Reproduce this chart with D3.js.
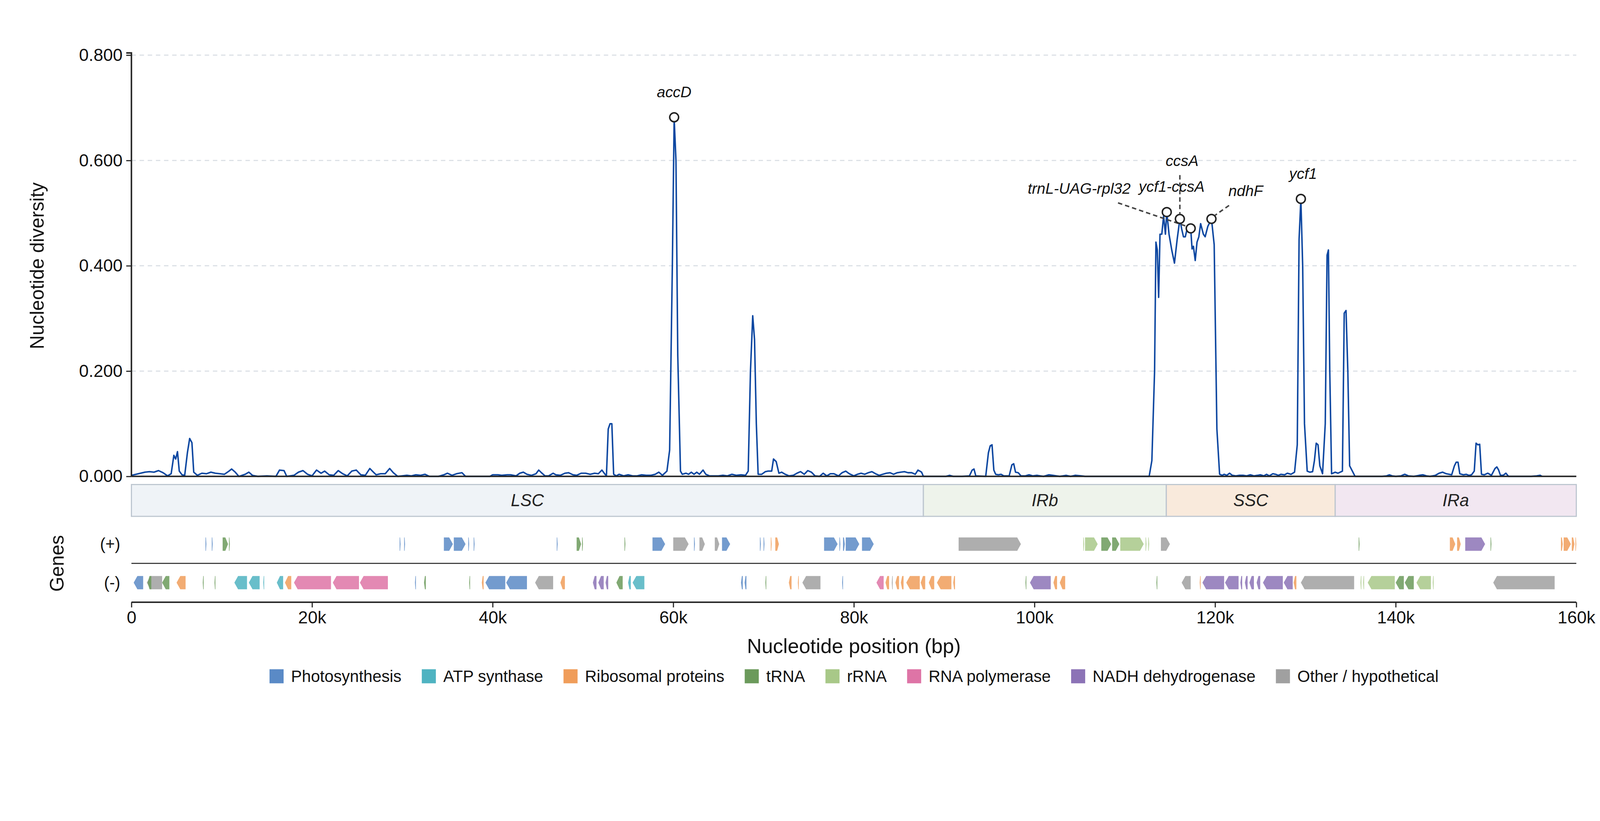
<!DOCTYPE html>
<html><head><meta charset="utf-8">
<script src="https://cdn.jsdelivr.net/npm/d3@7"></script>
<style>html,body{margin:0;padding:0;overflow:hidden;background:#fff}svg{display:block;width:100vw;height:100vh}text{font-family:"Liberation Sans",Arial,sans-serif}</style>
</head><body><svg id="c" viewBox="0 0 4322 2102" preserveAspectRatio="xMidYMid meet"></svg>
<script>
// nucleotide diversity: [position (kb), Pi]
const piData = [
[0,0.002],[0.5,0.004],[1,0.006],[1.5,0.008],[2,0.009],[2.5,0.008],[3,0.011],[3.5,0.007],[4,0.001],[4.4,0.005],[4.7,0.04],[4.9,0.033],[5.1,0.047],[5.3,0.01],[5.6,0.003],[5.9,0.002],[6.2,0.045],[6.45,0.072],[6.7,0.064],[6.9,0.008],[7.3,0.002],[7.8,0.006],[8.3,0.005],[8.8,0.008],[9.3,0.006],[9.8,0.005],[10.3,0.004],[10.8,0.01],[11.1,0.014],[11.5,0.008],[11.9,0],[12.6,0.004],[13,0.008],[13.4,0.002],[14,0],[15,0.001],[16,0],[16.4,0.012],[16.9,0.011],[17.2,0],[18,0.002],[18.5,0.008],[19,0.011],[19.5,0.004],[20,0.001],[20.5,0.012],[21,0.006],[21.4,0.01],[21.9,0.003],[22.4,0.002],[22.9,0.011],[23.4,0.005],[23.9,0.001],[24.4,0.01],[24.9,0.012],[25.4,0.003],[25.9,0.002],[26.4,0.015],[26.8,0.008],[27.1,0.003],[27.6,0.005],[28.1,0.005],[28.6,0.015],[29,0.007],[29.5,0],[30.5,0.002],[31,0.001],[31.5,0.003],[32,0.002],[32.5,0.004],[33,0],[34,0],[34.6,0.003],[35,0.006],[35.5,0.002],[36,0.005],[36.6,0.007],[37,0],[38,0],[39,0],[39.7,0],[40,0.003],[40.6,0.003],[41,0.002],[41.6,0.003],[42,0.003],[42.6,0.001],[43,0.006],[43.4,0.008],[43.8,0.004],[44.3,0.002],[44.8,0.005],[45.1,0.012],[45.4,0.007],[45.8,0.001],[46.2,0.001],[46.7,0.006],[47,0.003],[47.5,0.002],[48,0.006],[48.4,0.007],[48.9,0.003],[49.3,0.002],[49.8,0.006],[50.3,0.006],[50.8,0.004],[51.3,0.006],[51.7,0.005],[52.1,0.012],[52.4,0.005],[52.6,0.001],[52.8,0.09],[53,0.1],[53.2,0.1],[53.4,0.004],[53.7,0.001],[54,0.004],[54.5,0.001],[55,0.003],[55.5,0.001],[56,0.001],[56.5,0.003],[57,0.002],[57.5,0.002],[58,0.004],[58.4,0.008],[58.8,0.002],[59.3,0.01],[59.6,0.05],[59.9,0.4],[60.1,0.68],[60.3,0.6],[60.5,0.23],[60.8,0.01],[61,0.004],[61.4,0.006],[61.7,0.004],[62,0.008],[62.3,0.004],[62.6,0.008],[62.9,0.004],[63.3,0.012],[63.6,0.004],[64,0.001],[64.5,0.001],[65,0.001],[65.5,0.002],[66,0.001],[66.5,0.004],[67,0.002],[67.5,0.003],[68,0.002],[68.3,0.01],[68.55,0.2],[68.8,0.305],[69,0.26],[69.2,0.1],[69.4,0.004],[69.8,0.004],[70.2,0.009],[70.5,0.01],[70.9,0.01],[71.1,0.033],[71.4,0.028],[71.7,0.006],[72,0.008],[72.4,0.004],[72.8,0.001],[73.3,0.002],[73.7,0.006],[74.1,0.009],[74.5,0.004],[74.9,0.011],[75.3,0.008],[75.7,0.001],[76.2,0],[76.6,0.006],[77,0.001],[77.4,0.005],[77.8,0.005],[78.3,0.001],[78.7,0.007],[79.1,0.01],[79.5,0.005],[80,0.001],[80.4,0.004],[80.8,0.006],[81.2,0.004],[81.6,0.007],[82,0.009],[82.4,0.005],[82.8,0.002],[83.2,0.004],[83.6,0.006],[84,0.007],[84.4,0.004],[84.8,0.007],[85.2,0.008],[85.6,0.009],[86,0.007],[86.4,0.007],[86.8,0.004],[87.1,0.012],[87.3,0.01],[87.5,0.008],[87.7,0],
[88.5,0],[89.5,0],[90.2,0],[90.6,0.002],[91,0],[92,0],[92.8,0.001],[93.1,0.012],[93.3,0.014],[93.5,0.001],[94.6,0],[94.9,0.045],[95.1,0.058],[95.3,0.06],[95.5,0.012],[95.7,0.004],[96,0.003],[96.3,0.004],[96.6,0.001],[97.2,0.001],[97.5,0.022],[97.7,0.024],[97.9,0.008],[98.2,0.007],[98.5,0.001],[99,0.001],[99.4,0.003],[99.8,0.001],[100.3,0.002],[101,0],[101.6,0.003],[102,0.002],[102.8,0],[103.5,0.002],[104,0],[104.5,0.002],[105.2,0.001],[105.6,0],[107,0],[109,0],[111,0],[112.7,0],[113,0.03],[113.3,0.2],[113.45,0.445],[113.6,0.43],[113.75,0.34],[113.9,0.46],[114.1,0.46],[114.3,0.495],[114.5,0.46],[114.65,0.502],[114.9,0.46],[115.2,0.43],[115.5,0.405],[115.8,0.45],[116.1,0.489],[116.3,0.47],[116.5,0.455],[116.7,0.455],[116.9,0.47],[117.3,0.471],[117.45,0.432],[117.6,0.437],[117.8,0.41],[118,0.445],[118.2,0.455],[118.4,0.48],[118.7,0.46],[118.9,0.455],[119.2,0.475],[119.6,0.489],[119.9,0.44],[120.2,0.09],[120.5,0.004],[120.8,0.002],[121,0.004],[121.3,0.002],[121.6,0.006],[121.9,0.002],[122.3,0.001],[122.7,0.002],[123.1,0.002],[123.5,0.001],[123.9,0.003],[124.3,0.001],[124.7,0.002],[125,0.003],[125.4,0.001],[125.7,0.004],[126,0.001],[126.4,0.005],[126.7,0.004],[127,0.002],[127.3,0.004],[127.7,0.003],[128,0.006],[128.4,0.004],[128.8,0.008],[129.1,0.06],[129.3,0.45],[129.5,0.527],[129.7,0.4],[129.9,0.1],[130.2,0.01],[130.5,0.008],[130.8,0.009],[131,0.03],[131.2,0.063],[131.4,0.06],[131.6,0.02],[131.9,0.005],[132.2,0.1],[132.4,0.42],[132.55,0.43],[132.7,0.2],[132.9,0.005],[133.3,0.008],[133.6,0.006],[134.1,0.01],[134.3,0.31],[134.5,0.315],[134.7,0.2],[134.9,0.02],[135.5,0],[136.5,0],[137.5,0],[138.5,0],[139,0.001],[139.3,0.003],[139.6,0.001],[140,0],[140.6,0.001],[141,0.004],[141.4,0.001],[142,0],[142.6,0.002],[143,0.003],[143.4,0.001],[143.8,0],[144.4,0.002],[144.8,0.006],[145.2,0.008],[145.6,0.005],[146.2,0.003],[146.5,0.02],[146.7,0.027],[146.9,0.027],[147.1,0.005],[147.5,0.003],[147.8,0.004],[148.1,0.002],[148.4,0.003],[148.7,0.01],[148.9,0.063],[149.1,0.06],[149.3,0.061],[149.5,0.004],[149.8,0.003],[150.2,0.006],[150.6,0.002],[151,0.015],[151.2,0.018],[151.4,0.012],[151.6,0.002],[151.9,0.002],[152.2,0.006],[152.5,0],[153,0],[154,0],[155,0],[155.6,0.001],[156,0.002],[156.2,0]
];
const yTicks = [0, 0.2, 0.4, 0.6, 0.8];
const xTicks = [0, 20000, 40000, 60000, 80000, 100000, 120000, 140000, 160000];
const xTickLabels = ["0","20k","40k","60k","80k","100k","120k","140k","160k"];
const regionNames = ["LSC","IRb","SSC","IRa"];
const regionStarts = [0, 87700, 114600, 133300];
const regionEnds = [87700, 114600, 133300, 160000];
const regionColors = ["#eff3f7","#eef3eb","#f9eadc","#f2e7f1"];
// peak labels: [kb, Pi, name]
const peakPts = [[60.1,0.682,"accD"],[114.65,0.502,"ycf1-ccsA"],[116.1,0.489,"ccsA"],[117.3,0.471,"trnL-UAG-rpl32"],[119.6,0.489,"ndhF"],[129.5,0.527,"ycf1"]];
const categories = ["Photosynthesis","ATP synthase","Ribosomal proteins","tRNA","rRNA","RNA polymerase","NADH dehydrogenase","Other / hypothetical"];
const catColors = ["#5a8ac6","#4fb3c1","#f09d5a","#6b9a5b","#a8c888","#de74a6","#8c73b6","#a0a0a0"];
// genes: [start kb, end kb, category index]
const genesPlus = [
[8.2,8.3,0],[8.9,9.0,0],[10.1,10.7,3],[10.8,10.9,3],[29.7,29.8,0],[30.2,30.3,0],[34.6,35.6,0],[35.7,37.0,0],[37.3,37.4,0],[37.9,38.0,0],[47.1,47.2,0],[49.3,49.8,3],[49.9,50.0,3],[54.6,54.7,3],
[57.7,59.1,0],[60.0,61.7,7],[62.3,62.4,0],[62.9,63.5,7],[64.6,65.1,7],[65.4,66.3,0],[69.6,69.7,0],[70.0,70.1,0],[70.8,70.9,2],[71.3,71.7,2],[76.7,78.2,0],[78.4,78.5,0],[78.8,79.0,0],[79.1,80.6,0],[80.9,82.2,0],
[91.6,98.5,7],[105.4,105.5,4],[105.6,107.0,4],[107.4,108.5,3],[108.6,109.4,3],[109.5,112.1,4],[112.3,112.4,4],[112.6,112.7,4],[114.0,115.0,7],[135.9,136.0,3],
[146.0,146.6,2],[146.8,147.2,2],[147.7,149.9,6],[150.5,150.6,3],[158.3,158.5,2],[158.6,159.4,2],[159.5,159.8,2],[159.9,160.0,2]
];
const genesMinus = [
[0.25,1.3,0],[1.7,3.4,7],[1.8,2.2,3],[3.4,4.2,3],[5.0,6.0,2],[7.9,8.0,3],[9.2,9.3,3],[11.4,12.8,1],[13.0,14.2,1],[14.6,14.7,1],[16.1,16.8,1],[17.0,17.7,2],[18.0,22.1,5],[22.3,25.2,5],[25.3,28.4,5],
[31.4,31.5,0],[32.4,32.6,3],[37.4,37.5,3],[38.8,39.0,2],[39.2,41.4,0],[41.5,43.8,0],[44.7,46.7,7],[47.5,48.0,2],[51.1,51.5,6],[51.7,52.3,6],[52.5,52.8,6],[53.7,54.4,3],[55.0,55.3,1],[55.5,56.8,1],
[67.5,67.7,0],[67.9,68.1,0],[70.2,70.3,3],[72.8,73.1,2],[73.8,73.9,2],[74.3,76.3,7],[78.7,78.8,0],[82.5,83.3,5],[83.5,83.9,2],[84.2,84.3,7],[84.6,85.0,2],[85.2,85.5,2],[85.8,87.3,2],[87.4,87.9,2],[88.3,88.9,2],[89.2,90.8,2],[91.0,91.2,2],
[99.0,99.1,3],[99.5,101.8,6],[102.1,102.5,2],[102.8,103.4,2],[113.5,113.6,3],[116.3,117.3,7],[118.3,118.4,2],[118.6,121.0,6],[121.1,122.6,6],[122.8,123.0,6],[123.3,123.6,6],[123.8,124.3,6],[124.6,125.0,6],[125.3,127.5,6],[127.6,128.6,6],[128.7,129.0,2],
[129.5,135.4,7],[136.1,136.2,4],[136.4,136.5,4],[136.9,139.9,4],[140.0,140.9,3],[141.0,142.0,3],[142.3,143.9,4],[144.1,144.2,4],[150.8,157.6,7]
];

const svg = d3.select("#c");
const L = 355, R = 4258, T = 91, B = 1229;
const x = d3.scaleLinear().domain([0,160000]).range([L,R]);
const y = d3.scaleLinear().domain([0,0.8]).range([B,T]);

svg.append("g").selectAll("line").data(yTicks.slice(1)).join("line")
 .attr("x1",L).attr("x2",R).attr("y1",d=>y(d)).attr("y2",d=>y(d))
 .attr("stroke","#d9dee4").attr("stroke-width",3).attr("stroke-dasharray","12,10");

svg.append("path").datum(piData)
 .attr("d", d3.line().x(d=>x(d[0]*1000)).y(d=>y(d[1])))
 .attr("fill","none").attr("stroke","#0d47a1").attr("stroke-width",4).attr("stroke-linejoin","round");

const ya = svg.append("g").attr("transform",`translate(${L},0)`)
 .call(d3.axisLeft(y).tickValues(yTicks).tickFormat(d3.format(".3f")).tickSize(14).tickPadding(10));
ya.select(".domain").attr("d",`M-14,${T-6}H0V${B}`).attr("stroke","#222").attr("stroke-width",4);
ya.selectAll(".tick line").attr("stroke","#222").attr("stroke-width",3);
ya.selectAll(".tick text").attr("font-size",47).attr("fill","#111").attr("font-family","Liberation Sans");
svg.append("line").attr("x1",L).attr("x2",R).attr("y1",B).attr("y2",B).attr("stroke","#222").attr("stroke-width",4);

svg.append("text").attr("transform",`translate(118,${(T+B)/2}) rotate(-90)`).attr("text-anchor","middle")
 .attr("font-size",52).attr("fill","#111").text("Nucleotide diversity");

const px = d=>x(d[0]*1000), py = d=>y(d[1]);
const leaders = svg.append("g").attr("stroke","#444").attr("stroke-width",4).attr("stroke-dasharray","12,8");
leaders.append("line").attr("x1",3020).attr("y1",490).attr("x2",px(peakPts[3])-12).attr("y2",py(peakPts[3])-6);
leaders.append("line").attr("x1",px(peakPts[2])).attr("y1",415).attr("x2",px(peakPts[2])).attr("y2",py(peakPts[2])-14);
leaders.append("line").attr("x1",3320).attr("y1",497).attr("x2",px(peakPts[4])+10).attr("y2",py(peakPts[4])-10);
svg.append("g").selectAll("circle").data(peakPts).join("circle")
 .attr("cx",px).attr("cy",py).attr("r",12).attr("fill","#fff").attr("stroke","#222").attr("stroke-width",4);
const lab = svg.append("g").attr("font-size",41).attr("font-style","italic").attr("fill","#111").attr("text-anchor","middle");
lab.append("text").attr("x",px(peakPts[0])).attr("y",205).text("accD");
lab.append("text").attr("x",3165).attr("y",460).text("ycf1-ccsA");
lab.append("text").attr("x",3193).attr("y",390).text("ccsA");
lab.append("text").attr("x",2915).attr("y",465).text("trnL-UAG-rpl32");
lab.append("text").attr("x",3365).attr("y",472).text("ndhF");
lab.append("text").attr("x",3520).attr("y",425).text("ycf1");

const rY = 1251, rH = 86;
const rg = svg.append("g");
rg.selectAll("rect").data(regionNames).join("rect")
 .attr("x",(d,i)=>x(regionStarts[i])).attr("width",(d,i)=>x(regionEnds[i])-x(regionStarts[i]))
 .attr("y",rY).attr("height",rH).attr("fill",(d,i)=>regionColors[i]).attr("stroke","#bcc5cf").attr("stroke-width",3);
rg.selectAll("text").data(regionNames).join("text")
 .attr("x",(d,i)=>(x(regionStarts[i])+x(regionEnds[i]))/2).attr("y",rY+rH/2+16)
 .attr("text-anchor","middle").attr("font-size",46).attr("font-style","italic").attr("fill","#222").text(d=>d);

const gH = 36, tip = 10;
function arrow(d, dir, cy){
  const x0 = x(d[0]*1000), x1 = x(d[1]*1000), w = x1-x0, t = Math.min(tip, w*0.5);
  const top = cy-gH/2, bot = cy+gH/2;
  if(dir>0) return `M${x0},${top}L${x1-t},${top}L${x1},${cy}L${x1-t},${bot}L${x0},${bot}Z`;
  return `M${x1},${top}L${x0+t},${top}L${x0},${cy}L${x0+t},${bot}L${x1},${bot}Z`;
}
const plusY = 1412, minusY = 1516;
svg.append("g").selectAll("path").data(genesPlus).join("path")
 .attr("d",d=>arrow(d,1,plusY)).attr("fill",d=>catColors[d[2]]).attr("opacity",0.85);
svg.append("g").selectAll("path").data(genesMinus).join("path")
 .attr("d",d=>arrow(d,-1,minusY)).attr("fill",d=>catColors[d[2]]).attr("opacity",0.85);
svg.append("line").attr("x1",L).attr("x2",R).attr("y1",1464).attr("y2",1464).attr("stroke","#333").attr("stroke-width",3);
svg.append("text").attr("x",325).attr("y",plusY+15).attr("text-anchor","end").attr("font-size",44).attr("fill","#111").text("(+)");
svg.append("text").attr("x",325).attr("y",minusY+15).attr("text-anchor","end").attr("font-size",44).attr("fill","#111").text("(-)");
svg.append("text").attr("transform",`translate(172,1464) rotate(-90)`).attr("text-anchor","middle")
 .attr("font-size",52).attr("fill","#111").text("Genes");

const xa = svg.append("g").attr("transform","translate(0,1569)")
 .call(d3.axisBottom(x).tickValues(xTicks).tickFormat((d,i)=>xTickLabels[i]).tickSize(14).tickPadding(10));
xa.select(".domain").attr("d",`M${L},0H${R}`).attr("stroke","#222").attr("stroke-width",4);
xa.selectAll(".tick line").attr("stroke","#222").attr("stroke-width",3);
xa.selectAll(".tick text").attr("font-size",47).attr("fill","#111");
svg.append("text").attr("x",(L+R)/2).attr("y",1706).attr("text-anchor","middle").attr("font-size",55).attr("fill","#111").text("Nucleotide position (bp)");

const lg = svg.append("g").attr("transform","translate(0,1769)");
const items = lg.selectAll("g").data(categories).join("g");
items.append("rect").attr("width",38).attr("height",38).attr("y",-19).attr("fill",(d,i)=>catColors[i]);
items.append("text").attr("x",58).attr("y",15).attr("font-size",44).attr("fill","#111").text(d=>d);
const widths = [];
items.each(function(){ widths.push(58+this.querySelector("text").getComputedTextLength()); });
const gap = 55, total = d3.sum(widths)+gap*(widths.length-1);
let pos = 2307 - total/2;
items.attr("transform",(d,i)=>{const p=pos; pos+=widths[i]+gap; return `translate(${p},0)`;});
</script></body></html>
